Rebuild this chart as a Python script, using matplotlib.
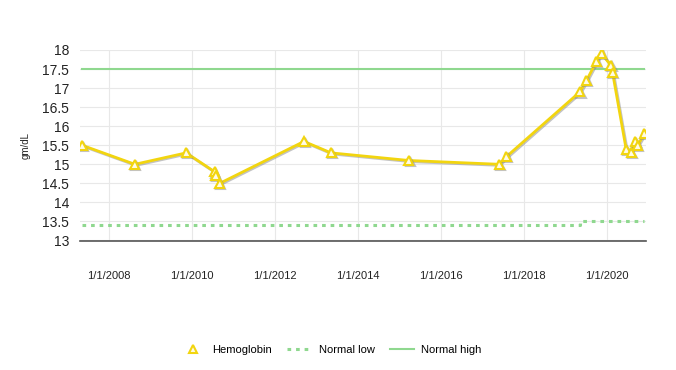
import matplotlib
matplotlib.use("Agg")
import matplotlib.pyplot as plt
import matplotlib.patheffects as pe
from matplotlib.lines import Line2D
import pandas as pd

plt.rcParams['font.family'] = ['Liberation Sans', 'DejaVu Sans']

dates = ["2007-05-08", "2008-08-15", "2009-11-10", "2010-07-20", "2010-07-28",
         "2010-09-01", "2012-09-12", "2013-05-08", "2015-03-25", "2017-05-28",
         "2017-07-30", "2019-05-08", "2019-07-05", "2019-10-01", "2019-11-15",
         "2020-02-05", "2020-02-20", "2020-06-18", "2020-08-01", "2020-09-05",
         "2020-09-28", "2020-11-25"]
hemoglobin = [15.5, 15.0, 15.3, 14.8, 14.7, 14.5, 15.6, 15.3, 15.1, 15.0,
              15.2, 16.9, 17.2, 17.7, 17.9, 17.6, 17.4, 15.4, 15.3, 15.6,
              15.5, 15.8]
normal_low = [13.4, 13.4, 13.4, 13.4, 13.4, 13.4, 13.4, 13.4, 13.4, 13.4,
              13.4, 13.5, 13.5, 13.5, 13.5, 13.5, 13.5, 13.5, 13.5, 13.5,
              13.5, 13.5]
normal_high = [17.5] * len(dates)

x_ticks = ["2008-01-01", "2010-01-01", "2012-01-01", "2014-01-01",
           "2016-01-01", "2018-01-01", "2020-01-01"]
y_ticks = [13, 13.5, 14, 14.5, 15, 15.5, 16, 16.5, 17, 17.5, 18]

d = pd.to_datetime(dates)
xt = pd.to_datetime(x_ticks)

fig = plt.figure(figsize=(6.76, 3.70), dpi=100)
ax = fig.add_axes([80/676, 1-240.5/370, (646-80)/676, (240.5-50)/370])

hb_color = '#f2d50f'
low_color = '#8fd88f'
high_color = '#8fd88f'

ax.plot(d, normal_low, linestyle=(0, (1.2, 1.6)), color=low_color, lw=2.2,
        drawstyle='steps-post', zorder=2)
ax.plot(d, normal_high, linestyle='-', color=high_color, lw=1.5, zorder=2)
ax.plot(d, hemoglobin, color=hb_color, lw=2.0, marker='^', markersize=6.5,
        markerfacecolor='#fffbe6', markeredgecolor=hb_color, markeredgewidth=1.5,
        zorder=3,
        path_effects=[pe.SimpleLineShadow(offset=(0.8, -0.8), shadow_color='#888888', alpha=0.5), pe.Normal()])

ax.set_xlim(pd.Timestamp("2007-04-20"), pd.Timestamp("2020-12-10"))
ax.set_ylim(13, 18)
ax.set_yticks(y_ticks)
ax.set_yticklabels([f"{v:g}" for v in y_ticks])
ax.set_xticks(xt)
ax.set_xticklabels([f"1/1/{t.year}" for t in xt])

ax.grid(True, color='#e8e8e8', lw=0.8, zorder=0)
ax.set_axisbelow(True)
for s in ['top', 'right', 'left']:
    ax.spines[s].set_visible(False)
ax.spines['bottom'].set_color('#555555')
ax.spines['bottom'].set_linewidth(1.2)
ax.tick_params(axis='y', length=0, pad=8, labelsize=10, labelcolor='#222222')
ax.tick_params(axis='x', length=0, pad=22, labelsize=8, labelcolor='#222222')

ax.set_ylabel('gm/dL', fontsize=7, color='#222222', labelpad=8)

handles = [
    Line2D([], [], linestyle='none', marker='^', markersize=6,
           markerfacecolor='#fffbe6', markeredgecolor=hb_color, markeredgewidth=1.5),
    Line2D([], [], linestyle=(0, (1.2, 1.6)), color=low_color, lw=2.2),
    Line2D([], [], linestyle='-', color=high_color, lw=1.5),
]
labels = ['Hemoglobin', 'Normal low', 'Normal high']
fig.legend(handles, labels, loc='center',
           bbox_to_anchor=(0.49, 0.054), ncol=3, frameon=False, fontsize=8,
           handlelength=2.2, columnspacing=1.4, handletextpad=0.6)

fig.savefig('out.png', dpi=100)
